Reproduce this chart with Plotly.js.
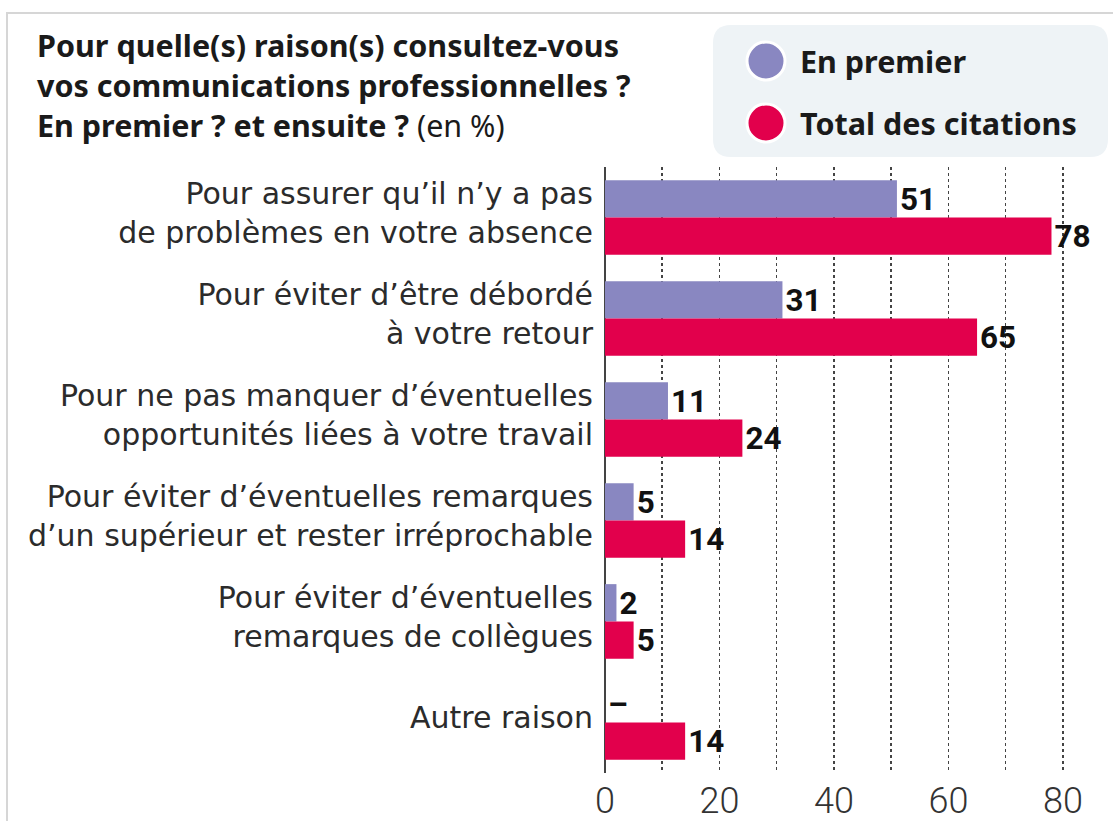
<!DOCTYPE html>
<html><head><meta charset="utf-8">
<script src="https://cdn.plot.ly/plotly-3.0.1.min.js"></script>
<style>html,body{margin:0;padding:0;background:#fff}#chart{width:1113px;height:821px}</style>
</head><body><div id="chart"></div>
<script>
const categories = [
  "Pour assurer qu’il n’y a pas<br>de problèmes en votre absence",
  "Pour éviter d’être débordé<br>à votre retour",
  "Pour ne pas manquer d’éventuelles<br>opportunités liées à votre travail",
  "Pour éviter d’éventuelles remarques<br>d’un supérieur et rester irréprochable",
  "Pour éviter d’éventuelles<br>remarques de collègues",
  "Autre raison"
];
const seriesNames = ["En premier", "Total des citations"];
const enPremier = [51, 31, 11, 5, 2, null];
const totalCitations = [78, 65, 24, 14, 5, 14];
const xTicks = [0, 20, 40, 60, 80];

const colors = ["#8987c1", "#e2004c"];
const W = 1113, H = 821;
const M = {l: 605, r: 10, t: 167, b: 48};
const px = x => (x - M.l) / (W - M.l - M.r);
const py = y => (H - M.b - y) / (H - M.t - M.b);

const labelFont = {family: "'DejaVu Sans', 'Noto Sans', sans-serif", size: 30, color: "#2b2b2b"};
const valFont = {family: "Roboto, 'Noto Sans', sans-serif", size: 32, color: "#111", weight: 700};

const traces = [
  {
    type: "bar", orientation: "h", name: seriesNames[0],
    y: categories, x: enPremier.map(v => v === null ? 0 : v),
    text: enPremier.map(v => v === null ? "–" : String(v)),
    textposition: "outside", cliponaxis: false,
    outsidetextfont: valFont, textfont: valFont,
    marker: {color: colors[0], line: {width: 0}},
    showlegend: false, hoverinfo: "x+y"
  },
  {
    type: "bar", orientation: "h", name: seriesNames[1],
    y: categories, x: totalCitations,
    text: totalCitations.map(String),
    textposition: "outside", cliponaxis: false,
    outsidetextfont: valFont, textfont: valFont,
    marker: {color: colors[1], line: {width: 0}},
    showlegend: false, hoverinfo: "x+y"
  }
];

const titleLines = [
  "<b>Pour quelle(s) raison(s) consultez-vous</b>",
  "<b>vos communications professionnelles ?</b>",
  "<b>En premier ? et ensuite ?</b> (en %)"
];
const titleFont = {family: "'Noto Sans', Roboto, sans-serif", size: 30.5, color: "#1a1a1a"};

const annotations = titleLines.map((t, i) => ({
  xref: "paper", yref: "paper", x: px(35), y: py(45 + i * 40),
  xanchor: "left", yanchor: "middle", showarrow: false, text: t, font: titleFont
}));
seriesNames.forEach((n, i) => annotations.push({
  xref: "paper", yref: "paper", x: px(798), y: py(61 + i * 62),
  xanchor: "left", yanchor: "middle", showarrow: false, text: "<b>" + n + "</b>",
  font: {family: "'Noto Sans', Roboto, sans-serif", size: 30.5, color: "#1a1a1a"}
}));

function roundRect(x0, y0, x1, y1, r) {
  const X = v => px(v), Y = v => py(v);
  return `M ${X(x0 + r)} ${Y(y0)} L ${X(x1 - r)} ${Y(y0)} Q ${X(x1)} ${Y(y0)} ${X(x1)} ${Y(y0 + r)} ` +
         `L ${X(x1)} ${Y(y1 - r)} Q ${X(x1)} ${Y(y1)} ${X(x1 - r)} ${Y(y1)} ` +
         `L ${X(x0 + r)} ${Y(y1)} Q ${X(x0)} ${Y(y1)} ${X(x0)} ${Y(y1 - r)} ` +
         `L ${X(x0)} ${Y(y0 + r)} Q ${X(x0)} ${Y(y0)} ${X(x0 + r)} ${Y(y0)} Z`;
}

const shapes = [
  {type: "line", xref: "paper", yref: "paper", x0: px(6), x1: px(1113), y0: py(13), y1: py(13), line: {color: "#d6d6d6", width: 2}, layer: "below"},
  {type: "line", xref: "paper", yref: "paper", x0: px(7), x1: px(7), y0: py(13), y1: py(821), line: {color: "#d6d6d6", width: 2}, layer: "below"},
  {type: "path", xref: "paper", yref: "paper", path: roundRect(713, 25, 1108, 157, 18), fillcolor: "#eef3f6", line: {width: 0}, layer: "below"}
];
colors.forEach((c, i) => {
  const cy = 61 + i * 62, cx = 766, r = 19;
  shapes.push({type: "circle", xref: "paper", yref: "paper", x0: px(cx - r), x1: px(cx + r), y0: py(cy + r), y1: py(cy - r), fillcolor: c, line: {color: "#ffffff", width: 3}});
});

const layout = {
  width: W, height: H,
  margin: M,
  paper_bgcolor: "#ffffff", plot_bgcolor: "#ffffff",
  barmode: "group", bargap: 0.26, bargroupgap: 0,
  showlegend: false,
  xaxis: {
    range: [0, 87], tickvals: xTicks, ticktext: xTicks.map(String),
    showgrid: true, gridcolor: "#444", griddash: "dot", gridwidth: 1.5,
    minor: {dtick: 10, showgrid: true, gridcolor: "#444", griddash: "dot", gridwidth: 1.5},
    zeroline: true, zerolinecolor: "#444", zerolinewidth: 2,
    showline: false, ticks: "",
    ticklabelstandoff: 3,
    tickfont: {family: "Roboto, 'Noto Sans', sans-serif", size: 36, color: "#333", weight: 300},
    fixedrange: true
  },
  yaxis: {
    type: "category", autorange: "reversed",
    showgrid: false, zeroline: false, showline: false, ticks: "",
    ticklabelstandoff: 11, ticklabelshift: 5,
    tickfont: labelFont, fixedrange: true
  },
  annotations: annotations,
  shapes: shapes
};

Plotly.newPlot("chart", traces, layout, {displayModeBar: false, staticPlot: true});
</script>
</body></html>
